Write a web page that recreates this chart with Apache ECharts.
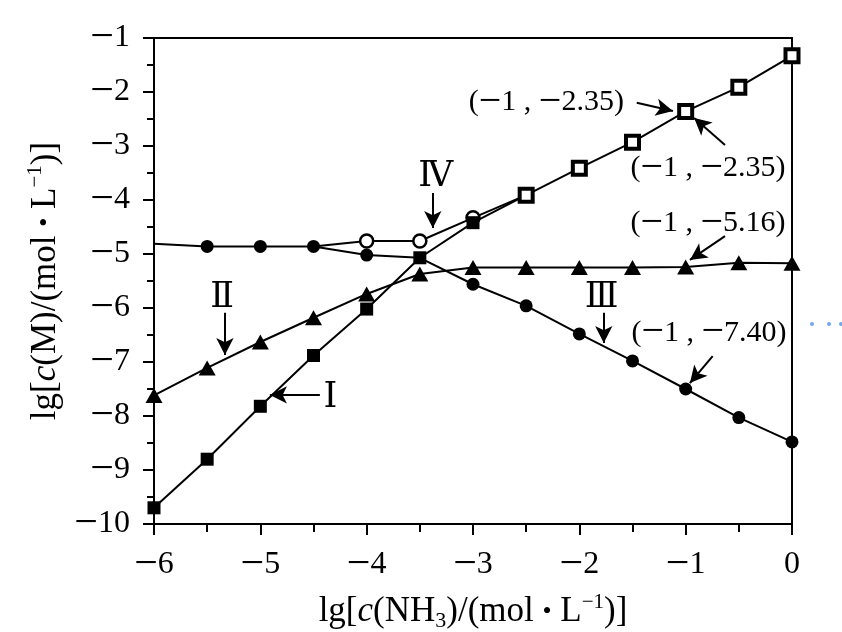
<!DOCTYPE html>
<html>
<head>
<meta charset="utf-8">
<script src="https://cdn.jsdelivr.net/npm/echarts@6/dist/echarts.min.js"></script>
<style>html,body{margin:0;padding:0;background:#fff}#c{width:842px;height:632px}</style>
</head>
<body>
<div id="c"></div>
<script>
// ---- data ----
const xValues = [-6, -5.5, -5, -4.5, -4, -3.5, -3, -2.5, -2, -1.5, -1, -0.5, 0];
const yI      = [-9.7, -8.8, -7.82, -6.88, -6.02, -5.07, -4.42, -3.91, null, null, null, null, null];
const yII     = [-7.62, -7.11, -6.63, -6.18, -5.74, -5.37, -5.25, -5.25, -5.25, -5.25, -5.24, -5.16, -5.17];
const yIII    = [-4.81, -4.86, -4.86, -4.86, -5.02, -5.07, -5.56, -5.96, -6.48, -6.98, -7.5, -8.03, -8.48];
const yIV     = [null, null, null, -4.86, -4.76, -4.76, -4.33, -3.91, null, null, null, null, null];
const yMerged = [null, null, null, null, null, null, null, -3.91, -3.41, -2.93, -2.36, -1.91, -1.33];
const hiddenI = [7];
const hiddenIII = [0, 5];
const hiddenIV = [3, 7];

// annotation texts (data coordinates of centres)
const romanTexts = ['Ⅳ', 'Ⅱ', 'I', 'Ⅲ'];
const romanX = [-3.35, -5.36, -4.34, -1.79];
const romanY = [-3.57, -5.82, -7.67, -5.82];
const pointTexts = ['(−1 , −2.35)', '(−1 , −2.35)', '(−1 , −5.16)', '(−1 , −7.40)'];
const pointX = [-2.31, -0.79, -0.79, -0.78];
const pointY = [-2.19, -3.41, -4.43, -6.46];
// arrows: from -> to (data coordinates)
const arrowFromX = [-3.378, -5.333, -4.44, -1.77, -1.46, -0.63, -0.63, -0.746];
const arrowFromY = [-3.87, -6.09, -7.61, -6.09, -2.20, -2.98, -4.67, -6.89];
const arrowToX   = [-3.378, -5.333, -4.91, -1.77, -1.12, -0.92, -0.96, -0.96];
const arrowToY   = [-4.52, -6.87, -7.61, -6.65, -2.35, -2.48, -5.11, -7.39];

const FONT = '"Liberation Serif", "Times New Roman", serif';
const black = '#000';

// split text into rich tokens so the minus sign can be drawn wider
function richMinus(s) {
  return s.split('−').map(p => p === '' ? '' : '{t|' + p + '}').join('{m|−}');
}
const tickFmt = v => richMinus(v < 0 ? '−' + Math.abs(v) : String(v));

function pts(ys, hidden) {
  const out = [];
  ys.forEach((y, i) => {
    if (y === null) return;
    const item = { value: [xValues[i], y] };
    if (hidden && hidden.indexOf(i) >= 0) item.symbol = 'none';
    out.push(item);
  });
  return out;
}

const chart = echarts.init(document.getElementById('c'), null, { renderer: 'canvas' });
const baseLine = { color: black, width: 2 };

const tickRich = {
  t: { fontSize: 32, fontFamily: FONT, color: black, lineHeight: 36 },
  m: { fontSize: 42, fontFamily: FONT, color: black, lineHeight: 36 }
};
const noteRich = {
  t: { fontSize: 30, fontFamily: FONT, color: black, lineHeight: 34 },
  m: { fontSize: 40, fontFamily: FONT, color: black, lineHeight: 34 }
};

const markLineData = arrowFromX.map((_, i) => [
  { coord: [arrowFromX[i], arrowFromY[i]] },
  { coord: [arrowToX[i], arrowToY[i]] }
]);
const markPointData = romanTexts.map((t, i) => ({
  coord: [romanX[i], romanY[i]],
  label: {
    show: true, position: 'inside', formatter: t, color: black,
    fontFamily: '"DejaVu Serif", "Liberation Serif", serif', fontSize: 35
  }
})).concat(pointTexts.map((t, i) => ({
  coord: [pointX[i], pointY[i]],
  label: { show: true, position: 'inside', formatter: richMinus(t), rich: noteRich }
})));

const nameRich = {
  n: { fontSize: 35, fontFamily: FONT, color: black, lineHeight: 40 },
  i: { fontSize: 35, fontFamily: FONT, fontStyle: 'italic', color: black, lineHeight: 40 },
  d: { fontSize: 26, fontFamily: FONT, color: black, lineHeight: 40 },
  sub: { fontSize: 22, fontFamily: FONT, color: black, verticalAlign: 'bottom', lineHeight: 40, padding: [19, 0, 0, 0] },
  sup: { fontSize: 21, fontFamily: FONT, color: black, verticalAlign: 'top', lineHeight: 40, padding: [0, 0, 17, 0] }
};

const option = {
  animation: false,
  backgroundColor: '#fff',
  grid: { left: 154, right: 50, top: 38, bottom: 108, containLabel: false, outerBoundsMode: 'none' },
  xAxis: [{
    type: 'value', min: -6, max: 0, interval: 1,
    axisLine: { show: true, onZero: false, lineStyle: { color: black, width: 2 } },
    axisTick: { show: true, inside: false, length: 11, lineStyle: { color: black, width: 2 } },
    minorTick: { show: true, splitNumber: 2, length: 8, lineStyle: { color: black, width: 2 } },
    splitLine: { show: false },
    axisLabel: { margin: 23, formatter: tickFmt, rich: tickRich },
    name: '{n|lg[}{i|c}{n|(NH}{sub|3}{n|)/(mol }{d|•}{n| L}{sup|−1}{n|)]}',
    nameLocation: 'middle', nameGap: 66,
    nameTextStyle: { rich: nameRich }
  }, {
    type: 'value', min: -6, max: 0, position: 'top',
    axisLine: { show: true, onZero: false, lineStyle: { color: black, width: 2 } },
    axisTick: { show: false }, axisLabel: { show: false }, splitLine: { show: false }
  }],
  yAxis: [{
    type: 'value', min: -10, max: -1, interval: 1,
    axisLine: { show: true, onZero: false, lineStyle: { color: black, width: 2 } },
    axisTick: { show: true, inside: false, length: 11, lineStyle: { color: black, width: 2 } },
    minorTick: { show: true, splitNumber: 2, length: 7, lineStyle: { color: black, width: 2 } },
    splitLine: { show: false },
    axisLabel: { margin: 24, formatter: tickFmt, rich: tickRich },
    name: '{n|lg[}{i|c}{n|(M)/(mol }{d|•}{n| L}{sup|−1}{n|)]}',
    nameLocation: 'middle', nameGap: 66, nameRotate: 90,
    nameTextStyle: { rich: nameRich }
  }, {
    type: 'value', min: -10, max: -1, position: 'right',
    axisLine: { show: true, onZero: false, lineStyle: { color: black, width: 2 } },
    axisTick: { show: false }, axisLabel: { show: false }, splitLine: { show: false }
  }],
  series: [
    {
      name: 'III', type: 'line', z: 3,
      data: pts(yIII, hiddenIII),
      symbol: 'circle', symbolSize: 13,
      lineStyle: baseLine, itemStyle: { color: black },
      markLine: {
        silent: true, symbol: ['none', 'arrow'], symbolSize: [13, 17],
        label: { show: false },
        lineStyle: { color: black, width: 2, type: 'solid' },
        data: markLineData
      },
      markPoint: {
        silent: true, symbol: 'circle', symbolSize: 1,
        itemStyle: { color: 'rgba(0,0,0,0)' },
        data: markPointData
      }
    },
    {
      name: 'IV', type: 'line', z: 4,
      data: pts(yIV, hiddenIV),
      symbol: 'circle', symbolSize: 13,
      lineStyle: baseLine,
      itemStyle: { color: '#fff', borderColor: black, borderWidth: 2.5 }
    },
    {
      name: 'II', type: 'line', z: 5,
      data: pts(yII, []),
      symbol: 'triangle', symbolSize: [17, 15],
      lineStyle: baseLine, itemStyle: { color: black }
    },
    {
      name: 'I', type: 'line', z: 6,
      data: pts(yI, hiddenI),
      symbol: 'rect', symbolSize: 13,
      lineStyle: baseLine, itemStyle: { color: black }
    },
    {
      name: 'I+IV', type: 'line', z: 7,
      data: pts(yMerged, []),
      symbol: 'rect', symbolSize: 13,
      lineStyle: baseLine,
      itemStyle: { color: '#fff', borderColor: black, borderWidth: 4 }
    }
  ],
  graphic: [
    { type: 'circle', shape: { cx: 812, cy: 324, r: 2 }, style: { fill: '#6fa8ee' } },
    { type: 'circle', shape: { cx: 829, cy: 324, r: 2 }, style: { fill: '#6fa8ee' } },
    { type: 'circle', shape: { cx: 841, cy: 324, r: 2 }, style: { fill: '#6fa8ee' } }
  ]
};
chart.setOption(option);
</script>
</body>
</html>
